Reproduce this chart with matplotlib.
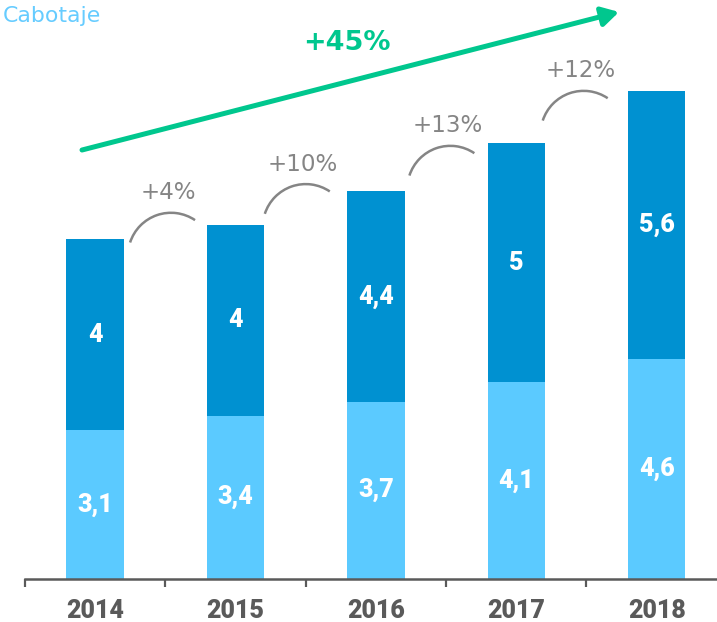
import matplotlib
matplotlib.use("Agg")
import matplotlib.pyplot as plt
from matplotlib.patches import Arc
from matplotlib.transforms import ScaledTranslation

# data
years = ["2014", "2015", "2016", "2017", "2018"]
bottom_vals = [3.1, 3.4, 3.7, 4.1, 4.6]
top_vals = [4.0, 4.0, 4.4, 5.0, 5.6]
growth_labels = ["+4%", "+10%", "+13%", "+12%"]
total_label = "+45%"
title = "Cabotaje"

# arc placement tweaks (relative to bar i)
arc_dx = [0.54, 0.50, 0.53, 0.48]
arc_dy = [-0.35, -0.05, 0.05, 0.2]

light = "#5BCAFF"
dark = "#0091D1"
green = "#00C78E"
gray = "#858585"
axis_gray = "#5A5A5A"

heavy = ['Roboto', 'DejaVu Sans']
plt.rcParams['font.family'] = ['DejaVu Sans']

dpi = 72
fig = plt.figure(figsize=(717 / dpi, 622 / dpi), dpi=dpi)
ax = fig.add_axes([25 / 717, (622 - 578.5) / 622, (717 - 25) / 717, 578.5 / 622])

x = list(range(len(years)))
totals = [b + t for b, t in zip(bottom_vals, top_vals)]

ax.bar(x, bottom_vals, width=0.41, color=light, zorder=2)
ax.bar(x, top_vals, width=0.41, bottom=bottom_vals, color=dark, zorder=2)

for i in x:
    ax.text(i, bottom_vals[i] / 2, str(bottom_vals[i]).replace('.', ','),
            ha='center', va='center', color='white', fontsize=25,
            fontweight='black', family=heavy)
    v = top_vals[i]
    s = str(int(v)) if v == int(v) else str(v).replace('.', ',')
    ax.text(i, bottom_vals[i] + v / 2, s,
            ha='center', va='center', color='white', fontsize=25,
            fontweight='black', family=heavy)

# growth arcs between bars
r_in = 43 / dpi
for i, lab in enumerate(growth_labels):
    cx = i + arc_dx[i]
    cy = totals[i] + arc_dy[i]
    tr = fig.dpi_scale_trans + ScaledTranslation(cx, cy, ax.transData)
    arc = Arc((0, 0), 2 * r_in, 2 * r_in, theta1=56, theta2=162,
              transform=tr, color=gray, lw=2.5, clip_on=False)
    ax.add_patch(arc)
    ax.annotate(lab, (cx, cy), xytext=(-3, 63), textcoords='offset points',
                ha='center', va='center', color=gray, fontsize=23)

# overall growth arrow
ax.annotate("", xy=(0.8584, 0.9793), xytext=(0.0824, 0.7407),
            xycoords='axes fraction', textcoords='axes fraction',
            arrowprops=dict(arrowstyle='-|>,head_length=0.7,head_width=0.4',
                            mutation_scale=20, color=green, lw=5,
                            shrinkA=0, shrinkB=0))
ax.text(0.4653, 0.9257, total_label, transform=ax.transAxes, ha='center', va='center',
        color=green, fontsize=27, fontweight='bold')

fig.text(3 / 717, 1 - 22 / 622, title, ha='left', va='baseline',
         color="#66CCFF", fontsize=22)

ax.set_xlim(-0.5, 4.43)
ax.set_ylim(0, 12.1)
for sp in ['top', 'right', 'left']:
    ax.spines[sp].set_visible(False)
ax.spines['bottom'].set_color(axis_gray)
ax.spines['bottom'].set_linewidth(2.5)
ax.set_yticks([])
ax.set_xticks([i - 0.5 for i in x])
ax.set_xticklabels([])
ax.tick_params(axis='x', which='major', length=8, width=2.2, color=axis_gray)
ax.set_xticks(x, minor=True)
ax.set_xticklabels(years, minor=True, fontsize=25, fontweight='black',
                   color=axis_gray, family=heavy)
ax.tick_params(axis='x', which='minor', length=0, pad=20)

fig.savefig("out.png", dpi=dpi)
